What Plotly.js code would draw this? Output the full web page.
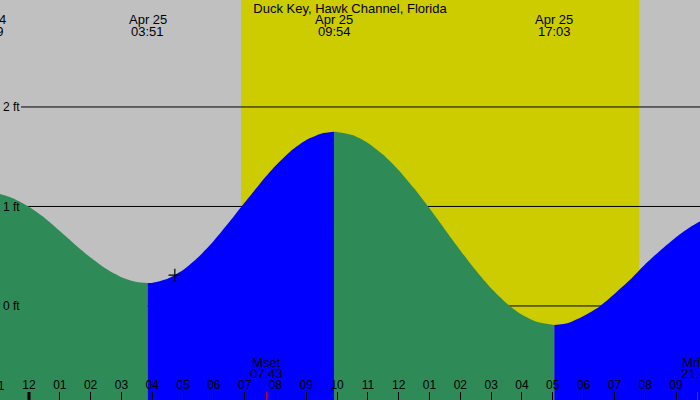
<!DOCTYPE html>
<html><head><meta charset="utf-8">
<script src="https://cdn.plot.ly/plotly-3.0.1.min.js"></script>
<style>html,body{margin:0;padding:0;background:#c0c0c0;overflow:hidden}</style>
</head><body><div id="chart" style="width:700px;height:400px"></div>
<script>
// ---- data ----
const stationName = 'Duck Key, Hawk Channel, Florida';
const viewRange = ['2025-04-24 23:03:32', '2025-04-25 21:46:44'];

// falling tide (green) before the 03:51 low
const fallATime = ['2025-04-24 22:39','2025-04-24 23:00','2025-04-24 23:30','2025-04-25 00:00','2025-04-25 00:30','2025-04-25 01:00','2025-04-25 01:30','2025-04-25 02:00','2025-04-25 02:30','2025-04-25 03:00','2025-04-25 03:30','2025-04-25 03:51'];
const fallAFeet = [1.14, 1.130, 1.081, 0.996, 0.886, 0.753, 0.616, 0.486, 0.373, 0.289, 0.240, 0.23];
// rising tide (blue) to the 09:54 high
const riseBTime = ['2025-04-25 03:51','2025-04-25 04:00','2025-04-25 04:30','2025-04-25 05:00','2025-04-25 05:30','2025-04-25 06:00','2025-04-25 06:30','2025-04-25 07:00','2025-04-25 07:30','2025-04-25 08:00','2025-04-25 08:30','2025-04-25 09:00','2025-04-25 09:30','2025-04-25 09:54'];
const riseBFeet = [0.23, 0.232, 0.273, 0.361, 0.492, 0.656, 0.843, 1.039, 1.232, 1.409, 1.558, 1.668, 1.733, 1.75];
// falling tide (green) to the 17:03 low
const fallCTime = ['2025-04-25 09:54','2025-04-25 10:00','2025-04-25 10:30','2025-04-25 11:00','2025-04-25 11:30','2025-04-25 12:00','2025-04-25 12:30','2025-04-25 13:00','2025-04-25 13:30','2025-04-25 14:00','2025-04-25 14:30','2025-04-25 15:00','2025-04-25 15:30','2025-04-25 16:00','2025-04-25 16:30','2025-04-25 17:03'];
const fallCFeet = [1.75, 1.749, 1.717, 1.639, 1.520, 1.365, 1.183, 0.981, 0.769, 0.558, 0.358, 0.177, 0.027, -0.089, -0.162, -0.19];
// rising tide (blue) after the 17:03 low
const riseDTime = ['2025-04-25 17:03','2025-04-25 17:30','2025-04-25 18:00','2025-04-25 18:30','2025-04-25 19:00','2025-04-25 19:30','2025-04-25 20:00','2025-04-25 20:30','2025-04-25 21:00','2025-04-25 21:30','2025-04-25 22:00'];
const riseDFeet = [-0.19, -0.17, -0.10, -0.01, 0.12, 0.26, 0.42, 0.56, 0.69, 0.80, 0.89];

// tide extremes labelled at the top
const extremeTime = ['2025-04-24 22:39','2025-04-25 03:51','2025-04-25 09:54','2025-04-25 17:03'];
const extremeDate = ['Apr 24','Apr 25','Apr 25','Apr 25'];
const extremeClock = ['22:39','03:51','09:54','17:03'];

// sun and moon
const sunrise = '2025-04-25 06:53';
const sunset = '2025-04-25 19:48';
const moonTime = ['2025-04-25 07:43','2025-04-25 21:42'];
const moonName = ['Mset','Mrise'];
const moonClock = ['07:43','21:42'];

// current-time cross marker
const nowTime = ['2025-04-25 04:44'];
const nowFeet = [0.31];

// axis ticks
const feetTicks = [0, 1, 2];
const feetRange = [-0.945, 3.075];
const midnight = '2025-04-25 00:00';
const partialHourTick = ['2025-04-24 23:00'];
const partialHourLabel = ['11'];

// ---- drawing ----
const GREY = '#c0c0c0', YELLOW = '#cccc00', GREEN = '#2e8b57', BLUE = '#0000ff';
const FONT = 'Liberation Sans, Arial, sans-serif';

function ms(s){ return new Date(s.replace(' ', 'T')).getTime(); }
function paperX(s){ return (ms(s) - ms(viewRange[0])) / (ms(viewRange[1]) - ms(viewRange[0])); }

const segments = [
  {t: fallATime, h: fallAFeet, c: GREEN},
  {t: riseBTime, h: riseBFeet, c: BLUE},
  {t: fallCTime, h: fallCFeet, c: GREEN},
  {t: riseDTime, h: riseDFeet, c: BLUE}
];
const traces = [];
segments.forEach(s => {
  traces.push({x: s.t, y: s.t.map(() => feetRange[0] - 0.1), type: 'scatter', mode: 'lines',
    line: {width: 0, color: s.c}, hoverinfo: 'skip', showlegend: false});
  traces.push({x: s.t, y: s.h, type: 'scatter', mode: 'lines', fill: 'tonexty',
    fillcolor: s.c, line: {width: 0, color: s.c, shape: 'spline', smoothing: 0.6}, showlegend: false});
});
traces.push({x: nowTime, y: nowFeet, type: 'scatter', mode: 'markers',
  marker: {symbol: 'cross-thin', size: 9, line: {width: 1.2, color: '#000'}}, showlegend: false});

const shapes = [
  {type: 'rect', xref: 'x', yref: 'paper', x0: sunrise, x1: sunset, y0: 0, y1: 1,
   fillcolor: YELLOW, line: {width: 0}, layer: 'below'}
];
feetTicks.forEach(v => shapes.push({type: 'line', xref: 'paper', yref: 'y', x0: 0.03, x1: 1, y0: v, y1: v,
  line: {color: '#000', width: 1}, layer: 'below'}));
moonTime.forEach(t => shapes.push({type: 'line', xref: 'x', yref: 'paper', x0: t, x1: t, y0: 0, y1: 0.02,
  line: {color: '#ff0000', width: 1}, layer: 'above'}));
shapes.push({type: 'line', xref: 'x', yref: 'paper', x0: midnight, x1: midnight, y0: 0, y1: 0.02,
  line: {color: '#000', width: 3}, layer: 'above'});

const annotations = [];
const tf = {family: FONT, size: 13, color: '#000'};
extremeTime.forEach((t, i) => {
  annotations.push({xref: 'paper', yref: 'paper', x: paperX(t), y: 1, xanchor: 'center', yanchor: 'middle',
    yshift: -19, text: extremeDate[i], showarrow: false, font: tf});
  annotations.push({xref: 'paper', yref: 'paper', x: paperX(t), y: 1, xanchor: 'center', yanchor: 'middle',
    yshift: -31, text: extremeClock[i], showarrow: false, font: tf});
});
const sf = {family: FONT, size: 12, color: '#000'};
moonTime.forEach((t, i) => {
  annotations.push({xref: 'paper', yref: 'paper', x: paperX(t), y: 0, xanchor: 'center', yanchor: 'middle',
    yshift: 38, text: moonName[i], showarrow: false, font: tf});
  annotations.push({xref: 'paper', yref: 'paper', x: paperX(t), y: 0, xanchor: 'center', yanchor: 'middle',
    yshift: 27, text: moonClock[i], showarrow: false, font: tf});
});
partialHourTick.forEach((t, i) => {
  annotations.push({xref: 'paper', yref: 'paper', x: paperX(t), y: 0, xanchor: 'center', yanchor: 'middle',
    yshift: 14, text: partialHourLabel[i], showarrow: false, font: sf});
});

const layout = {
  width: 700, height: 400,
  margin: {l: 0, r: 0, t: 0, b: 0, pad: 0},
  paper_bgcolor: GREY, plot_bgcolor: GREY,
  showlegend: false,
  title: {text: stationName, x: 0.5, xref: 'paper', xanchor: 'center', y: 1 - 8/400, yref: 'paper', yanchor: 'middle',
    font: {family: FONT, size: 13, color: '#000'}},
  xaxis: {type: 'date', range: viewRange, fixedrange: true,
    tick0: midnight, dtick: 3600000, tickformat: '%I',
    ticks: 'inside', ticklen: 8, tickwidth: 1, tickcolor: '#000',
    ticklabelposition: 'inside', ticklabeloverflow: 'allow',
    tickfont: {family: FONT, size: 12, color: '#000'},
    showgrid: false, zeroline: false, showline: false},
  yaxis: {range: feetRange, fixedrange: true,
    tickvals: feetTicks, ticktext: feetTicks.map(v => v + ' ft'),
    ticks: '', ticklabelposition: 'inside', ticklabeloverflow: 'allow',
    tickfont: {family: FONT, size: 12, color: '#000'},
    showgrid: false, zeroline: false, showline: false},
  shapes: shapes,
  annotations: annotations
};

Plotly.newPlot('chart', traces, layout, {staticPlot: true, displayModeBar: false});
</script>
</body></html>
